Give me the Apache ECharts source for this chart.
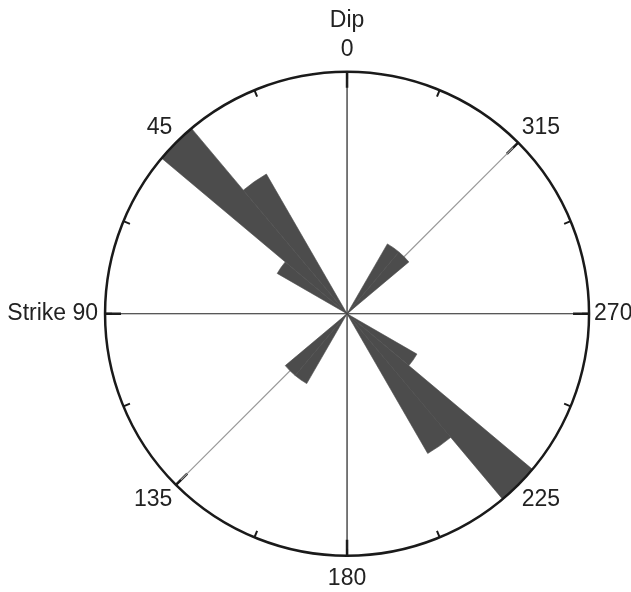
<!DOCTYPE html>
<html>
<head>
<meta charset="utf-8">
<script src="https://cdn.jsdelivr.net/npm/echarts@6/dist/echarts.min.js"></script>
<style>
  html, body { margin: 0; padding: 0; background: #ffffff; }
  #chart { width: 631px; height: 592px; }
</style>
</head>
<body>
<div id="chart"></div>
<script>
// Rose diagram of strike directions, 10-degree bins (counts per bin)
var binStarts = [30, 40, 50, 130, 140, 210, 220, 230, 310, 320];
var binCounts = [8, 12, 4, 4, 4, 8, 12, 4, 4, 4];
var binWidth = 10;
var radiusMax = 12;

// Compass labels on the outer ring
var ringLabels = {
  0: '{top|Dip\n0}',
  45: '45',
  90: '{left|Strike 90}',
  135: '135',
  180: '{bottom|180}',
  225: '225',
  270: '270',
  315: '315'
};

// Build the full list of 36 angular bins
var categories = [];
var values = [];
for (var a = 0; a < 360; a += binWidth) {
  categories.push(String(a));
  var idx = binStarts.indexOf(a);
  values.push(idx >= 0 ? binCounts[idx] : 0);
}

var center = ['55%', '53%'];
var radius = 242;
var ink = '#1a1a1a';
var petal = '#4c4c4c';
var font = 'Liberation Sans, Arial, sans-serif';
var fs = 23;

function ring(idx) {
  return { center: center, radius: radius };
}

var chart = echarts.init(document.getElementById('chart'));
chart.setOption({
  animation: false,
  backgroundColor: '#ffffff',
  polar: [ring(0), ring(1), ring(2), ring(3)],
  angleAxis: [
    {
      // outer ring and compass labels, drawn above the petals
      polarIndex: 0,
      type: 'value', min: 0, max: 360, interval: 45,
      startAngle: 90, clockwise: false,
      z: 5,
      axisLine: { show: true, lineStyle: { color: ink, width: 2.5 } },
      axisTick: { show: false },
      splitLine: { show: false },
      axisLabel: {
        show: true, margin: 5, color: '#222', fontSize: fs, fontFamily: font,
        formatter: function (v) { return ringLabels[v] !== undefined && v !== 360 ? ringLabels[v] : ''; },
        rich: {
          top: { fontSize: fs, fontFamily: font, color: '#222', lineHeight: 29, align: 'center', padding: [0, 0, 5, 0] },
          bottom: { fontSize: fs, fontFamily: font, color: '#222', padding: [6, 0, 0, 0] },
          left: { fontSize: fs, fontFamily: font, color: '#222', padding: [0, 2, 0, 0] }
        }
      }
    },
    {
      // long ticks every 45 degrees and the spokes through the centre
      polarIndex: 1,
      type: 'value', min: 0, max: 360, interval: 45,
      startAngle: 90, clockwise: false,
      z: 1,
      axisLine: { show: false },
      axisTick: { show: true, inside: true, length: 16, lineStyle: { color: ink, width: 2.5 } },
      axisLabel: { show: false },
      splitLine: {
        show: true,
        lineStyle: { color: ['#222222', '#9a9a9a'], width: 1.2 }
      }
    },
    {
      // short ticks every 22.5 degrees
      polarIndex: 2,
      type: 'value', min: 0, max: 360, interval: 22.5,
      startAngle: 90, clockwise: false,
      z: 1,
      axisLine: { show: false },
      axisTick: { show: true, inside: true, length: 7, lineStyle: { color: ink, width: 2 } },
      axisLabel: { show: false },
      splitLine: { show: false }
    },
    {
      // binned directions for the petals
      polarIndex: 3,
      type: 'category', data: categories,
      startAngle: 90, clockwise: false,
      axisLine: { show: false }, axisTick: { show: false },
      axisLabel: { show: false }, splitLine: { show: false }
    }
  ],
  radiusAxis: [
    { polarIndex: 0, type: 'value', min: 0, max: radiusMax, show: false },
    { polarIndex: 1, type: 'value', min: 0, max: radiusMax, show: false },
    { polarIndex: 2, type: 'value', min: 0, max: radiusMax, show: false },
    { polarIndex: 3, type: 'value', min: 0, max: radiusMax, show: false }
  ],
  series: [{
    type: 'bar',
    coordinateSystem: 'polar',
    polarIndex: 3,
    data: values,
    barCategoryGap: '0%',
    z: 3,
    itemStyle: { color: petal, borderColor: petal, borderWidth: 0.6 }
  }]
});
</script>
</body>
</html>
